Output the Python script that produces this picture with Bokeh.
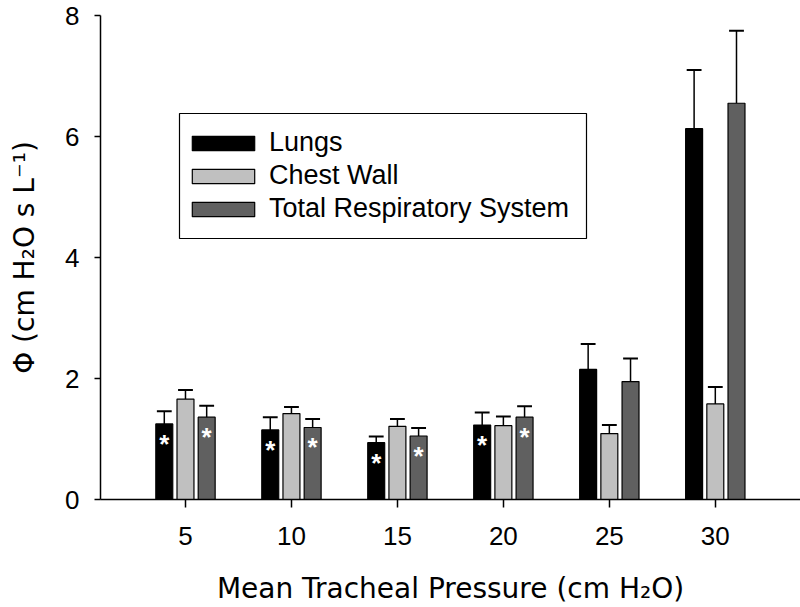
from bokeh.plotting import figure
from bokeh.models import FixedTicker, Legend, LegendItem, ColumnDataSource, Range1d, BoxAnnotation
from bokeh.core.properties import value
from bokeh.embed import file_html
from bokeh.resources import INLINE

# ---- data ----
pressures = [5, 10, 15, 20, 25, 30]
x_tick_labels = ["5", "10", "15", "20", "25", "30"]
y_ticks = [0, 2, 4, 6, 8]
series_names = ["Lungs", "Chest Wall", "Total Respiratory System"]

lungs_mean = [1.25, 1.15, 0.94, 1.23, 2.15, 6.13]
lungs_err = [0.21, 0.21, 0.10, 0.21, 0.42, 0.97]
chest_mean = [1.66, 1.42, 1.21, 1.22, 1.09, 1.58]
chest_err = [0.15, 0.11, 0.12, 0.15, 0.14, 0.28]
total_mean = [1.36, 1.19, 1.05, 1.36, 1.95, 6.55]
total_err = [0.19, 0.14, 0.13, 0.18, 0.38, 1.20]

lungs_sig = [True, True, True, True, False, False]
total_sig = [True, True, True, True, False, False]

# ---- styles ----
FONT = "Liberation Sans"
LABEL_FONT = "DejaVu Sans"
colors = ["#000000", "#c0c0c0", "#606060"]
offsets = [-1.0, 0.0, 1.0]
bar_w = 0.8
cap_half = 0.35

p = figure(width=800, height=607, output_backend="svg", toolbar_location=None,
           x_range=Range1d(0.99, 34.02), y_range=Range1d(0, 8),
           min_border_left=100, min_border_right=0, min_border_top=15, min_border_bottom=108)
p.outline_line_color = None
p.xgrid.visible = False
p.ygrid.visible = False
p.background_fill_color = "white"
p.border_fill_color = "white"

means = [lungs_mean, chest_mean, total_mean]
errs = [lungs_err, chest_err, total_err]
renderers = []
for i in range(3):
    xs = [v + offsets[i] for v in pressures]
    tops = [m + e for m, e in zip(means[i], errs[i])]
    src = ColumnDataSource(dict(x=xs, top=means[i], etop=tops,
                                cl=[v - cap_half for v in xs], cr=[v + cap_half for v in xs]))
    p.segment(x0="x", y0="top", x1="x", y1="etop", source=src, line_color="black", line_width=1.5)
    p.segment(x0="cl", y0="etop", x1="cr", y1="etop", source=src, line_color="black", line_width=2)
    r = p.vbar(x="x", top="top", bottom=0, width=bar_w, source=src,
               fill_color=colors[i], line_color="black", line_width=1.2)
    renderers.append(r)

# significance asterisks
star_x, star_y = [], []
for i, (mean, sig) in ((0, (lungs_mean, lungs_sig)), (2, (total_mean, total_sig))):
    for v, m, s in zip(pressures, mean, sig):
        if s:
            star_x.append(v + offsets[i])
            star_y.append(m - 0.33)
p.text(x=star_x, y=star_y, text=["*"] * len(star_x), text_color="white",
       text_align="center", text_baseline="middle", text_font=value(FONT),
       text_font_size="26px", text_font_style="bold")

# axes
for ax in (p.xaxis[0], p.yaxis[0]):
    ax.axis_line_color = "black"
    ax.axis_line_width = 1.5
    ax.major_tick_line_color = "black"
    ax.major_tick_line_width = 1.5
    ax.major_tick_in = 0
    ax.minor_tick_line_color = None
    ax.major_label_text_font = FONT
    ax.major_label_text_font_size = "26px"
    ax.major_label_text_color = "black"
    ax.axis_label_text_font = LABEL_FONT
    ax.axis_label_text_font_size = "28px"
    ax.axis_label_text_font_style = "normal"
    ax.axis_label_text_color = "black"

p.xaxis.ticker = FixedTicker(ticks=pressures)
p.xaxis.major_label_overrides = {v: l for v, l in zip(pressures, x_tick_labels)}
p.xaxis.major_tick_out = 8
p.xaxis.major_label_standoff = 19
p.xaxis.axis_label_standoff = 24
p.xaxis.axis_label = "Mean Tracheal Pressure (cm H\u2082O)"

p.yaxis.ticker = FixedTicker(ticks=y_ticks)
p.yaxis.major_tick_out = 6
p.yaxis.major_label_standoff = 15
p.yaxis.axis_label_standoff = 21
p.yaxis.axis_label = "\u03a6 (cm H\u2082O s L\u207b\u00b9)"

# legend frame (canvas pixels)
legend_box = BoxAnnotation(left=179, right=586, top=113, bottom=238,
                           left_units="canvas", right_units="canvas",
                           top_units="canvas", bottom_units="canvas",
                           fill_color="white", fill_alpha=1.0,
                           line_color="black", line_width=1.2, line_alpha=1.0)
p.add_layout(legend_box)

legend = Legend(items=[LegendItem(label=n, renderers=[r]) for n, r in zip(series_names, renderers)],
                location=(84, 275))
legend.border_line_color = None
legend.background_fill_alpha = 0.0
legend.padding = 6
legend.spacing = 2
legend.margin = 0
legend.glyph_width = 78
legend.glyph_height = 18
legend.label_standoff = 7
legend.label_height = 31
legend.label_text_font = FONT
legend.label_text_font_size = "27px"
legend.label_text_color = "black"
p.add_layout(legend, "center")

open("out.html", "w").write(file_html(p, INLINE))
